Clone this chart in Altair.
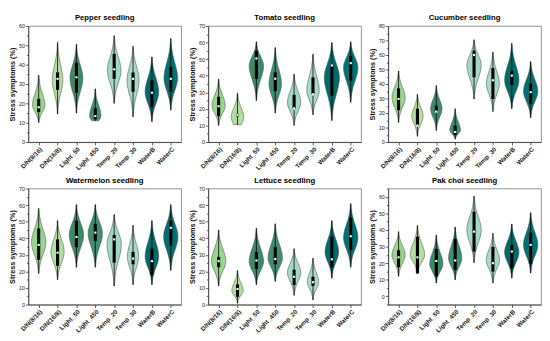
import json
import altair as alt
import pandas as pd

categories = ["D/N(8/16)", "D/N(16/8)", "Light_50", "Light_450", "Temp_20", "Temp_30", "WaterB", "WaterC"]
colors = ["#98d68e", "#b2dea0", "#3b8b6b", "#3f8e72", "#a2d9c6", "#a9dac9", "#006b6b", "#007170"]

# --- Pepper seedling
pepper_top = [34.5, 51.5, 50.5, 27.5, 55.0, 49.5, 44.0, 53.5]
pepper_bottom = [10.0, 14.5, 15.0, 11.0, 20.0, 13.0, 10.5, 16.5]
pepper_peak = [19.0, 32.0, 33.0, 13.5, 37.0, 32.0, 26.0, 33.0]
pepper_width = [0.33, 0.28, 0.34, 0.30, 0.36, 0.32, 0.36, 0.36]
pepper_q1 = [15.5, 27.0, 25.5, 11.8, 32.7, 26.0, 18.0, 26.0]
pepper_median = [18.0, 32.7, 33.5, 13.4, 37.6, 32.7, 25.5, 32.7]
pepper_q3 = [22.3, 36.0, 41.0, 17.4, 45.6, 36.0, 32.0, 39.0]

# --- Tomato seedling
tomato_top = [38.0, 29.5, 60.5, 57.0, 41.0, 53.0, 60.0, 60.5]
tomato_bottom = [10.0, 10.5, 25.0, 17.5, 10.0, 16.5, 13.0, 24.0]
tomato_peak = [22.0, 15.0, 46.0, 35.0, 24.0, 31.0, 39.0, 45.0]
tomato_width = [0.35, 0.33, 0.38, 0.33, 0.35, 0.33, 0.40, 0.38]
tomato_q1 = [15.6, 15.5, 38.0, 30.7, 20.0, 28.8, 28.0, 37.0]
tomato_median = [21.6, 16.3, 50.4, 38.2, 20.3, 28.8, 46.2, 47.6]
tomato_q3 = [27.3, 17.0, 55.0, 42.0, 28.5, 39.0, 46.7, 52.0]

# --- Cucumber seedling
cucumber_top = [49.0, 33.0, 39.0, 23.0, 70.5, 62.0, 68.0, 55.5]
cucumber_bottom = [13.5, 4.0, 8.0, 2.0, 29.7, 21.0, 23.0, 16.8]
cucumber_peak = [30.7, 17.8, 23.0, 8.0, 53.0, 40.4, 42.6, 35.0]
cucumber_width = [0.35, 0.30, 0.30, 0.28, 0.38, 0.34, 0.38, 0.38]
cucumber_q1 = [22.0, 11.4, 21.0, 5.0, 44.7, 29.7, 39.4, 26.5]
cucumber_median = [29.7, 11.4, 21.0, 7.0, 60.0, 42.6, 45.8, 34.4]
cucumber_q3 = [37.0, 23.0, 25.0, 11.4, 63.0, 51.0, 49.0, 40.4]

# --- Watermelon seedling
watermelon_top = [58.0, 50.6, 60.3, 60.3, 54.3, 47.8, 50.6, 60.3]
watermelon_bottom = [18.7, 15.0, 22.5, 22.5, 11.2, 12.0, 12.0, 20.6]
watermelon_peak = [37.5, 31.8, 42.0, 43.0, 36.5, 29.0, 29.0, 41.0]
watermelon_width = [0.38, 0.35, 0.38, 0.38, 0.38, 0.30, 0.36, 0.38]
watermelon_q1 = [27.0, 23.4, 34.6, 38.4, 25.3, 24.3, 17.8, 35.6]
watermelon_median = [36.0, 31.3, 40.8, 43.4, 39.3, 27.7, 26.2, 46.3]
watermelon_q3 = [45.9, 39.3, 50.6, 48.7, 42.0, 31.8, 33.7, 50.6]

# --- Lettuce seedling
lettuce_top = [45.0, 20.6, 46.0, 48.7, 33.7, 28.0, 50.6, 60.9]
lettuce_bottom = [11.2, 0.8, 12.0, 14.0, 5.6, 2.8, 15.9, 22.5]
lettuce_peak = [26.2, 8.4, 26.0, 28.0, 19.3, 13.7, 31.8, 40.3]
lettuce_width = [0.38, 0.30, 0.38, 0.38, 0.35, 0.30, 0.36, 0.38]
lettuce_q1 = [22.5, 4.7, 21.5, 24.3, 11.8, 11.2, 22.5, 32.8]
lettuce_median = [26.2, 9.4, 26.6, 27.5, 16.8, 13.5, 27.3, 41.2]
lettuce_q3 = [28.8, 12.2, 31.8, 34.6, 21.0, 16.8, 41.0, 52.4]

# --- Pak choi seedling
pakchoi_top = [39.0, 42.7, 37.0, 41.8, 60.4, 38.0, 43.6, 50.4]
pakchoi_bottom = [12.0, 13.8, 8.0, 10.0, 20.3, 8.0, 11.0, 14.0]
pakchoi_peak = [25.0, 25.0, 19.4, 23.0, 40.0, 22.0, 26.5, 31.0]
pakchoi_width = [0.35, 0.38, 0.35, 0.35, 0.38, 0.35, 0.38, 0.38]
pakchoi_q1 = [17.5, 13.8, 12.0, 15.9, 27.0, 14.9, 17.0, 19.7]
pakchoi_median = [23.5, 23.5, 21.3, 21.6, 39.0, 20.0, 27.0, 31.0]
pakchoi_q3 = [27.8, 36.0, 28.6, 34.6, 51.0, 29.8, 31.0, 38.4]

# violins whose bottom is cut flat rather than tapering
flat_bottom = [("Pepper seedling", "Light_450"), ("Tomato seedling", "D/N(16/8)")]

FONT = "Liberation Sans"
W, H = 158, 120


def panel(title, ytitle, ydomain, top, bottom, peak, width, q1, med, q3):
    klo = [1.0 if (title, c) in flat_bottom else 2.6 for c in categories]
    df = pd.DataFrame({
        "idx": list(range(len(categories))), "cat": categories,
        "top": top, "bottom": bottom, "peak": peak, "width": width,
        "q1": q1, "med": med, "q3": q3, "klo": klo,
    })
    xscale = alt.Scale(domain=[-0.55, 7.55], nice=False, zero=False)
    yscale = alt.Scale(domain=ydomain, nice=False, zero=False)
    ticks = list(range(int(ydomain[0]), int(ydomain[1]) + 1, 5))
    yaxis = alt.Axis(
        values=ticks, grid=False, title=ytitle, labelOverlap=False,
        labelExpr="datum.value % 10 === 0 ? datum.label : ''",
        tickSize={"condition": {"test": "datum.value % 10 === 0", "value": 3}, "value": 1.8},
        labelFontSize=5.5, labelPadding=1, titleFontSize=7.5, titleFontWeight="bold",
        titlePadding=2,
    )
    xaxis = alt.Axis(
        values=list(range(len(categories))), grid=False, title=None, labelOverlap=False,
        labelExpr=json.dumps(categories) + "[datum.value]",
        labelAngle=-45, labelAlign="right", labelBaseline="top",
        labelFontSize=6.5, labelFontWeight="bold", labelPadding=1, tickSize=3,
    )
    base = alt.Chart(df)
    violin = (
        base.transform_calculate(t="sequence(0, 1.0001, 0.02)")
        .transform_flatten(["t"])
        .transform_calculate(y="datum.bottom + datum.t * (datum.top - datum.bottom)")
        .transform_calculate(
            sd="datum.y < datum.peak ? (datum.peak - datum.bottom) / datum.klo : (datum.top - datum.peak) / 2.6")
        .transform_calculate(w="datum.width * exp(-0.5 * pow((datum.y - datum.peak) / datum.sd, 2))")
        .transform_calculate(xl="datum.idx - datum.w", xr="datum.idx + datum.w")
        .mark_area(orient="horizontal", stroke="#555555", strokeWidth=0.6, opacity=1)
        .encode(
            y=alt.Y("y:Q", scale=yscale, axis=yaxis),
            x=alt.X("xl:Q", scale=xscale, axis=xaxis),
            x2="xr:Q",
            color=alt.Color("cat:N", scale=alt.Scale(domain=categories, range=colors), legend=None),
        )
    )
    whisker = base.mark_rule(color="black", strokeWidth=0.8).encode(
        x=alt.X("idx:Q", scale=xscale, axis=xaxis),
        y=alt.Y("bottom:Q", scale=yscale, axis=yaxis), y2="top:Q")
    box = base.mark_rule(color="black", strokeWidth=3.2).encode(
        x=alt.X("idx:Q", scale=xscale, axis=xaxis),
        y=alt.Y("q1:Q", scale=yscale, axis=yaxis), y2="q3:Q")
    median = base.mark_point(shape="square", filled=True, color="white", size=5, opacity=1).encode(
        x=alt.X("idx:Q", scale=xscale, axis=xaxis),
        y=alt.Y("med:Q", scale=yscale, axis=yaxis))
    return alt.layer(violin, whisker, box, median).properties(
        width=W, height=H,
        title=alt.Title(title, fontSize=8, fontWeight="bold", font=FONT, offset=2),
    )


YT = "Stress symptoms (%)"
row1 = alt.hconcat(
    panel("Pepper seedling", YT, [0, 60], pepper_top, pepper_bottom, pepper_peak, pepper_width,
          pepper_q1, pepper_median, pepper_q3),
    panel("Tomato seedling", YT, [0, 70], tomato_top, tomato_bottom, tomato_peak, tomato_width,
          tomato_q1, tomato_median, tomato_q3),
    panel("Cucumber seedling", "Stress symptons (%)", [0, 80], cucumber_top, cucumber_bottom, cucumber_peak,
          cucumber_width, cucumber_q1, cucumber_median, cucumber_q3),
    spacing=6,
)
row2 = alt.hconcat(
    panel("Watermelon seedling", YT, [0, 70], watermelon_top, watermelon_bottom, watermelon_peak,
          watermelon_width, watermelon_q1, watermelon_median, watermelon_q3),
    panel("Lettuce seedling", YT, [0, 70], lettuce_top, lettuce_bottom, lettuce_peak, lettuce_width,
          lettuce_q1, lettuce_median, lettuce_q3),
    panel("Pak choi seedling", YT, [-5, 65], pakchoi_top, pakchoi_bottom, pakchoi_peak, pakchoi_width,
          pakchoi_q1, pakchoi_median, pakchoi_q3),
    spacing=6,
)
chart = alt.vconcat(row1, row2, spacing=4).properties(padding=0).configure(
    font=FONT,
).configure_view(
    stroke="#777777", strokeWidth=0.8,
).configure_axis(
    domainColor="#333333", tickColor="#333333", labelColor="#222222", titleColor="#111111",
    labelFont=FONT, titleFont=FONT, domainWidth=0.8, tickWidth=0.8,
)

chart.save("out.html", embed_options={"renderer": "svg", "actions": False})
